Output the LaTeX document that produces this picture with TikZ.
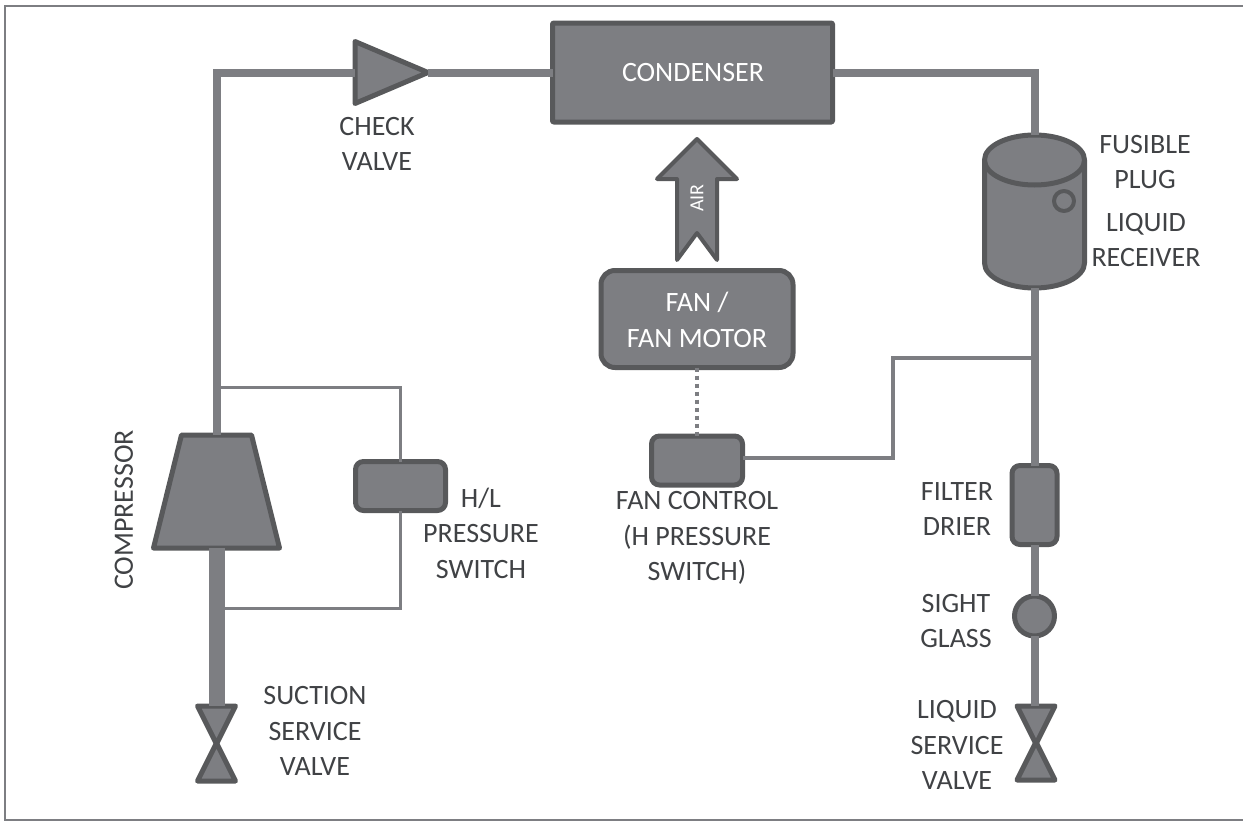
\documentclass[tikz,border=0pt]{standalone}
\usepackage{fontspec}
\setmainfont{Carlito}
\usepackage{xcolor}
\usetikzlibrary{arrows.meta,calc,positioning,shapes.geometric}
\definecolor{partfill}{HTML}{7D7E82}
\definecolor{partline}{HTML}{58595B}
\definecolor{labelgray}{HTML}{404245}
\tikzset{
  part/.style={draw=partline,fill=partfill,line width=5pt,line join=round,inner sep=0pt,outer sep=0pt},
  partbox/.style={part,rectangle,rounded corners=#1},
  partbox/.default=8pt,
  outline/.style={inner sep=0pt,outer sep=0pt},
  valvehalf/.style={part,isosceles triangle,isosceles triangle stretches,minimum width=38pt,minimum height=38pt},
  pipe/.style={draw=partfill,line width=8pt},
  senseline/.style={draw=partfill,line width=3.5pt},
  lbl/.style={font=\fontsize{28}{35.5}\selectfont,text=labelgray,align=center,inner sep=0pt},
  lblin/.style={lbl,text=white}
}
\begin{document}
\begin{tikzpicture}[x=1pt,y=-1pt]
  \useasboundingbox (0,0) rectangle (1243,822);
  \draw[draw=partfill,line width=2pt] (1243,5.5) -- (4.5,5.5) -- (4.5,820) -- (1243,820);
  % main parts
  \node[partbox=1pt,minimum width=280pt,minimum height=99pt] (condenser) at (692.5,72.5) {};
  \node[part,isosceles triangle,isosceles triangle stretches,minimum width=62pt,minimum height=73pt,anchor=lower side] (checkvalve) at (355,72.5) {};
  % compressor and receiver, outline follows the empty node
  \node[outline,minimum width=126pt,minimum height=113pt] (compressor) at (216.5,491.5) {};
  \draw[part] (compressor.south west) -- (compressor.south east) -- ++(-28,-113) -- ++(-70,0) -- cycle;
  \node[outline,minimum width=100pt,minimum height=153pt] (receiver) at (1034.5,211.5) {};
  \draw[part] (receiver.north west) ++(0,25) -- ++(0,103) arc[start angle=180,end angle=0,x radius=50,y radius=25] -- ++(0,-103) arc[start angle=0,end angle=-180,x radius=50,y radius=25] -- cycle;
  \draw[part] (receiver.north west) ++(0,25) arc[start angle=180,end angle=0,x radius=50,y radius=25];
  \node[part,circle,minimum size=20pt,line width=4pt] (fusibleplug) at (1064,201) {};
  \node[partbox=14pt,minimum width=192pt,minimum height=97pt] (fan) at (697,319) {};
  \node[partbox,minimum width=91pt,minimum height=49pt] (fancontrol) at (697,460.5) {};
  \node[partbox,minimum width=90pt,minimum height=49pt] (hlswitch) at (400.5,486) {};
  \node[partbox,minimum width=45pt,minimum height=79pt] (filter) at (1034.5,505) {};
  \node[part,circle,minimum size=40pt] (sightglass) at (1034.5,616) {};
  % service valves
  \node[valvehalf,shape border rotate=270,anchor=lower side] (suctiontop) at (216.5,706) {};
  \node[valvehalf,shape border rotate=90,anchor=lower side] (suctionbot) at (216.5,781) {};
  \node[valvehalf,shape border rotate=270,anchor=lower side] (liquidtop) at (1036,706) {};
  \node[valvehalf,shape border rotate=90,anchor=lower side] (liquidbot) at (1036,780) {};
  % air arrow
  \coordinate (airbase) at (697,233);
  \draw[part,line width=4pt,miter limit=6] (airbase) -- ++(-20,27) -- ++(0,-81) -- ++(-20,0) -- ++(40,-40) -- ++(40,40) -- ++(-20,0) -- ++(0,81) -- cycle;
  % pipes
  \coordinate (topleft) at (216.5,72.5);
  \coordinate (topright) at (1034.5,72.5);
  \coordinate (hightee) at (216.5,387.5);
  \coordinate (highcorner) at (400.5,387.5);
  \coordinate (lowtee) at (224,608.5);
  \coordinate (lowcorner) at (400.5,608.5);
  \coordinate (sensecornerA) at (893,458);
  \coordinate (sensecornerB) at (893,358);
  \coordinate (sensetee) at (1034.5,358);
  \draw[pipe] (compressor.north) -- (topleft) -- (checkvalve.lower side);
  \draw[pipe] (checkvalve.apex) -- (condenser.west);
  \draw[pipe] (condenser.east) -- (topright) -- (receiver.north);
  \draw[pipe] (receiver.south) -- (filter.north);
  \draw[pipe] (filter.south) -- (sightglass.north);
  \draw[pipe] (sightglass.south) -- (sightglass.south |- liquidtop.lower side);
  \draw[draw=partfill,line width=16pt] (compressor.south) -- (suctiontop.lower side);
  \draw[senseline] (hightee) -- (highcorner) -- (hlswitch.north);
  \draw[senseline] (hlswitch.south) -- (lowcorner) -- (lowtee);
  \draw[senseline] (sensecornerA -| fancontrol.east) -- (sensecornerA) -- (sensecornerB) -- (sensetee);
  \draw[draw=partfill,line width=4pt,dash pattern=on 4pt off 4pt] (fan.south) -- (fancontrol.north);
  % labels
  \node[lblin] (condenserlabel) at (693,73) {CONDENSER};
  \node[lblin,font=\fontsize{20}{22}\selectfont,rotate=90] (airlabel) at (697,198) {AIR};
  \node[lblin] (fanlabel) at (697,320) {FAN /\\FAN MOTOR};
  \node[lbl] (checklabel) at (377,144) {CHECK\\VALVE};
  \node[lbl] (pluglabel) at (1145,162) {FUSIBLE\\PLUG};
  \node[lbl] (receiverlabel) at (1146,240) {LIQUID\\RECEIVER};
  \node[lbl,rotate=90] (compressorlabel) at (124,510) {COMPRESSOR};
  \node[lbl] (hllabel) at (481,533) {H/L\\PRESSURE\\SWITCH};
  \node[lbl] (fancontrollabel) at (697,538) {FAN CONTROL\\(H PRESSURE\\SWITCH)};
  \node[lbl] (filterlabel) at (957,509) {FILTER\\DRIER};
  \node[lbl] (sightlabel) at (956,621) {SIGHT\\GLASS};
  \node[lbl] (liquidlabel) at (957,745) {LIQUID\\SERVICE\\VALVE};
  \node[lbl] (suctionlabel) at (315,731) {SUCTION\\SERVICE\\VALVE};
\end{tikzpicture}
\end{document}
